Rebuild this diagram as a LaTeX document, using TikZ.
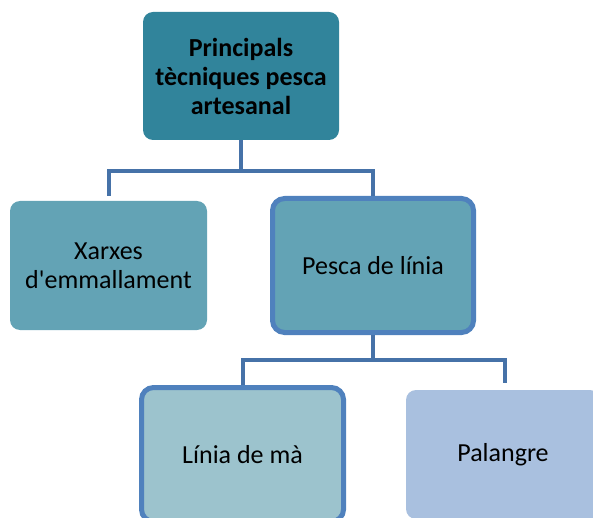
\documentclass[tikz,border=0pt]{standalone}
\usepackage{fontspec}
\setmainfont{Carlito}[Ligatures=TeXOff]
\usepackage{tikz}
\definecolor{topfill}{HTML}{31849B}
\definecolor{midfill}{HTML}{63A3B5}
\definecolor{lowfill}{HTML}{9CC3CD}
\definecolor{palfill}{HTML}{A9C0DF}
\definecolor{edgeblue}{HTML}{4F81BD}
\definecolor{connblue}{HTML}{4672A8}

\begin{document}
\begin{tikzpicture}[x=1pt, y=-1pt]
    \tikzstyle{box}=[rectangle,rounded corners=10pt,align=center,inner sep=0pt,font=\fontsize{26}{29}\selectfont]
    \tikzstyle{framed}=[box,draw=edgeblue,line width=5pt,rounded corners=12pt]
    \tikzstyle{conn}=[draw=connblue,line width=4pt]
    \useasboundingbox (0,0) rectangle (593,518);
    \clip (0,0) rectangle (593,518);
    \node[box,fill=topfill,minimum width=196pt,minimum height=128pt] (tecn) at (241,76) {\bfseries Principals\\\bfseries tècniques pesca\\\bfseries artesanal};
    \node[box,fill=midfill,minimum width=197pt,minimum height=129pt] (xarxes) at (108.5,265.5) {Xarxes\\d'emmallament};
    \node[framed,fill=midfill,minimum width=201pt,minimum height=134pt] (linia) at (373,265.5) {Pesca de línia};
    \node[framed,fill=lowfill,minimum width=202pt,minimum height=134pt] (ma) at (242.5,454.5) {Línia de mà};
    \node[box,fill=palfill,minimum width=194pt,minimum height=129pt] (palangre) at (503,454.5) {Palangre};
    % connectors
    \coordinate (j1) at (241,171);
    \coordinate (j2) at (373,360);
    \draw[conn] (tecn.south) -- (j1);
    \draw[conn] ([yshift=5pt]xarxes.north) |- (j1) -| (linia.north);
    \draw[conn] (linia.south) -- (j2);
    \draw[conn] (ma.north) |- (j2) -| ([xshift=2pt,yshift=7pt]palangre.north);
\end{tikzpicture}
\end{document}
